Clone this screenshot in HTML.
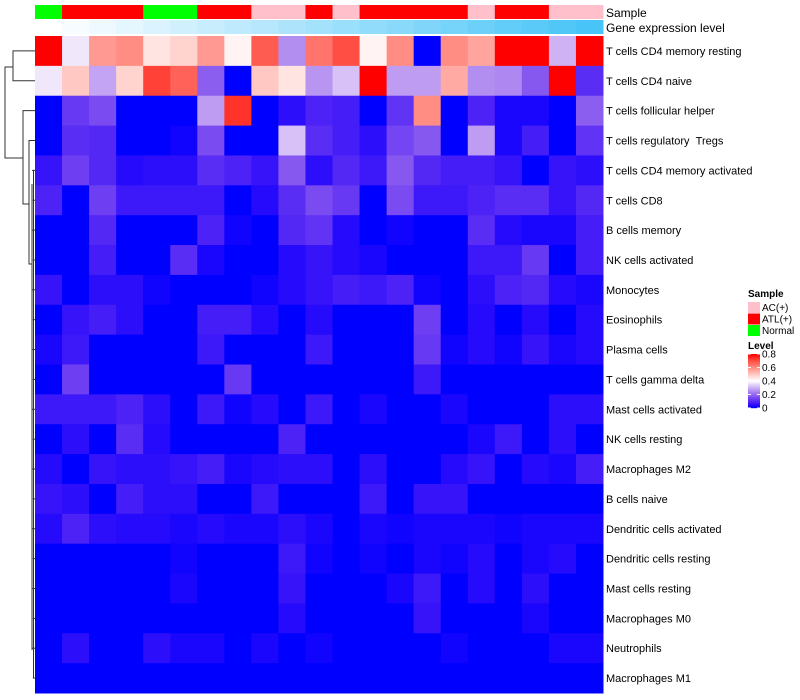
<!DOCTYPE html>
<html><head><meta charset="utf-8"><style>
body{margin:0;background:#fff;}
svg{display:block;font-family:"Liberation Sans",sans-serif;}
</style></head><body>
<svg id="chart" width="800" height="700" xmlns="http://www.w3.org/2000/svg"></svg>
<script>
const rowNames=["T cells CD4 memory resting","T cells CD4 naive","T cells follicular helper","T cells regulatory\u00a0\u00a0Tregs","T cells CD4 memory activated","T cells CD8","B cells memory","NK cells activated","Monocytes","Eosinophils","Plasma cells","T cells gamma delta","Mast cells activated","NK cells resting","Macrophages M2","B cells naive","Dendritic cells activated","Dendritic cells resting","Mast cells resting","Macrophages M0","Neutrophils","Macrophages M1"];
const sampleGroups=["Normal","ATL(+)","ATL(+)","ATL(+)","Normal","Normal","ATL(+)","ATL(+)","AC(+)","AC(+)","ATL(+)","AC(+)","ATL(+)","ATL(+)","ATL(+)","ATL(+)","AC(+)","ATL(+)","ATL(+)","AC(+)","AC(+)"];
const geneLevel=[0,0.05,0.1,0.15,0.2,0.25,0.3,0.35,0.4,0.45,0.5,0.55,0.6,0.65,0.7,0.75,0.8,0.85,0.9,0.95,1];
const values=[
[0.8,0.37,0.58,0.6,0.45,0.48,0.58,0.42,0.68,0.25,0.64,0.7,0.42,0.6,0,0.6,0.56,0.8,0.8,0.3,0.8],
[0.37,0.5,0.28,0.48,0.72,0.67,0.18,0,0.5,0.45,0.26,0.32,0.8,0.27,0.27,0.55,0.25,0.24,0.17,0.8,0.1],
[0,0.12,0.15,0,0,0,0.27,0.74,0,0.04,0.08,0.07,0,0.11,0.6,0,0.08,0.02,0.02,0,0.18],
[0,0.1,0.09,0,0,0.01,0.15,0,0,0.32,0.1,0.07,0.04,0.14,0.17,0,0.27,0.02,0.07,0,0.11],
[0.05,0.13,0.09,0.03,0.04,0.04,0.1,0.08,0.05,0.17,0.04,0.09,0.06,0.17,0.09,0.07,0.07,0.05,0,0.05,0.04],
[0.08,0,0.13,0.06,0.06,0.06,0.06,0,0.03,0.1,0.15,0.12,0,0.15,0.06,0.06,0.08,0.1,0.1,0.05,0.09],
[0,0,0.09,0,0,0,0.08,0.01,0,0.09,0.11,0.03,0,0.01,0,0,0.1,0.03,0.02,0.02,0.07],
[0,0,0.07,0,0,0.1,0.02,0,0,0.03,0.05,0.03,0.02,0,0,0,0.06,0.06,0.12,0,0.07],
[0.05,0,0.04,0.04,0.01,0,0,0,0.01,0.03,0.05,0.07,0.06,0.08,0.01,0,0.04,0.08,0.09,0.03,0.02],
[0,0.05,0.07,0.04,0,0,0.07,0.07,0.03,0,0.03,0,0,0,0.13,0,0.03,0,0.03,0,0.03],
[0.02,0.06,0,0,0,0,0.06,0,0,0,0.06,0,0,0,0.12,0.01,0.03,0.01,0.05,0.02,0.03],
[0,0.13,0,0,0,0,0,0.12,0,0,0,0,0,0,0.06,0,0,0,0,0,0],
[0.06,0.06,0.06,0.08,0.04,0,0.06,0.01,0.03,0,0.06,0,0.02,0,0,0.02,0,0,0,0.04,0.04],
[0,0.04,0,0.1,0.03,0,0,0,0,0.08,0,0,0,0,0,0,0.02,0.06,0,0.04,0],
[0.03,0,0.05,0.04,0.04,0.05,0.07,0.02,0.03,0.04,0.04,0,0.04,0,0,0.03,0.05,0,0.03,0.02,0.07],
[0.05,0.04,0,0.07,0.04,0.04,0,0,0.06,0,0,0,0.06,0,0.05,0.05,0,0,0,0,0],
[0.03,0.08,0.04,0.03,0.03,0.02,0.03,0.02,0.02,0.04,0.02,0,0.02,0.01,0.02,0.02,0.02,0.01,0.02,0.02,0.02],
[0,0,0,0,0,0.01,0,0,0,0.06,0.01,0,0.01,0,0.02,0.01,0.03,0,0.02,0.03,0],
[0,0,0,0,0,0.02,0,0,0,0.05,0,0,0,0.02,0.06,0,0.03,0,0.04,0,0],
[0,0,0,0,0,0,0,0,0,0.03,0,0,0,0,0.05,0,0,0,0.02,0,0],
[0,0.04,0,0,0.04,0.02,0.02,0,0.02,0,0.01,0,0,0,0,0.01,0,0,0,0.02,0.02],
[0,0,0,0,0,0,0,0,0,0,0,0,0,0,0,0,0,0,0,0,0]
];
const legendTicks=[0,0.2,0.4,0.6,0.8];
const sampleColors={"AC(+)":"#FFC0CB","ATL(+)":"#FF0000","Normal":"#00FF00"};

const NS="http://www.w3.org/2000/svg";
const svg=document.getElementById('chart');
function mk(tag,attrs,parent){const e=document.createElementNS(NS,tag);for(const k in attrs)e.setAttribute(k,attrs[k]);(parent||svg).appendChild(e);return e;}
const X0=35,X1=603,Y0=36,Y1=693;
const nC=values[0].length,nR=values.length;
const cw=(X1-X0)/nC,rh=(Y1-Y0)/nR;
const xPos=c=>X0+c*cw, yPos=r=>Y0+r*rh;
function col(v){
  v=Math.max(0,Math.min(0.8,v));
  let r,g,b;
  if(v<=0.4){const t=v/0.4;r=255*Math.pow(t,0.75);g=255*Math.pow(t,1.25);b=255-15*Math.sin(Math.PI*t);}
  else{const t=(v-0.4)/0.4;r=255;g=255*Math.pow(1-t,0.85);b=255*Math.pow(1-t,0.95);}
  return `rgb(${Math.round(r)},${Math.round(g)},${Math.round(b)})`;
}
function geneCol(t){const a=[255,255,255],b=[72,196,248];return `rgb(${a.map((x,i)=>Math.round(x+(b[i]-x)*t)).join(',')})`;}

const ann=mk('g',{});


sampleGroups.forEach((s,c)=>{
  const r=mk('rect',{x:xPos(c),y:5,width:cw+0.5,height:14,fill:sampleColors[s]},ann);
  
  
});
geneLevel.forEach((t,c)=>{
  const r=mk('rect',{x:xPos(c),y:20,width:cw+0.5,height:14,fill:geneCol(t)},ann);
  
  
});
let t=mk('text',{x:606,y:17,'font-size':12,fill:'#000'});t.textContent='Sample';


t=mk('text',{x:606,y:32,'font-size':12,fill:'#000'});t.textContent='Gene expression level';



const hm=mk('g',{});


values.forEach((row,r)=>row.forEach((v,c)=>{
  const e=mk('rect',{x:xPos(c),y:yPos(r),width:cw+0.5,height:rh+0.5,fill:col(v)},hm);
  
  
}));
rowNames.forEach((n,r)=>{
  const e=mk('text',{x:606,y:yPos(r)+rh/2+4,'font-size':11,fill:'#000'});
  e.textContent=n;
  
  
});

// dendrogram
const dg=mk('g',{stroke:'#333','stroke-width':1,fill:'none'});


const yc=r=>yPos(r)+rh/2;
function P(d){mk('path',{d:d},dg);}
// top cluster
P(`M35,${yc(0)}H13V${yc(1)}H35`);
// root
P(`M13,67H5V158H23`);
// lower cluster
P(`M35,${yc(2)}H23V204H29`);
P(`M35,${yc(3)}H29V264H32`);
P(`M32,184V650`);
for(let r=4;r<22;r++){P(`M${32+(r%2)*0.8},${yc(r)}H35`);}
P(`M33.5,${yc(4)}V${yc(21)}`);

const lg=mk('g',{});


t=mk('text',{x:748,y:297,'font-size':10,'font-weight':'bold'},lg);t.textContent='Sample';
Object.keys(sampleColors).forEach((k,i)=>{
  const r=mk('rect',{x:748,y:302+i*11.5,width:12,height:11,fill:sampleColors[k]},lg);
  
  
  const tx=mk('text',{x:762,y:311+i*11.5,'font-size':10},lg);tx.textContent=k;
  
  
});
t=mk('text',{x:748,y:349,'font-size':10,'font-weight':'bold'},lg);t.textContent='Level';
const cbTop=354,cbBot=408;
for(let i=0;i<54;i++){
  const v=0.8*(1-i/53);
  mk('rect',{x:748,y:cbTop+i,width:12,height:1.2,fill:col(v)},lg);
}
legendTicks.forEach(v=>{
  const y=cbBot-(v/0.8)*(cbBot-cbTop);
  mk('line',{x1:748,x2:751,y1:y,y2:y,stroke:'#fff'},lg);
  mk('line',{x1:757,x2:760,y1:y,y2:y,stroke:'#fff'},lg);
  const tx=mk('text',{x:762,y:y+3.5,'font-size':10},lg);tx.textContent=v===0?'0':v.toFixed(1);
  
  
});
</script>
</body></html>
